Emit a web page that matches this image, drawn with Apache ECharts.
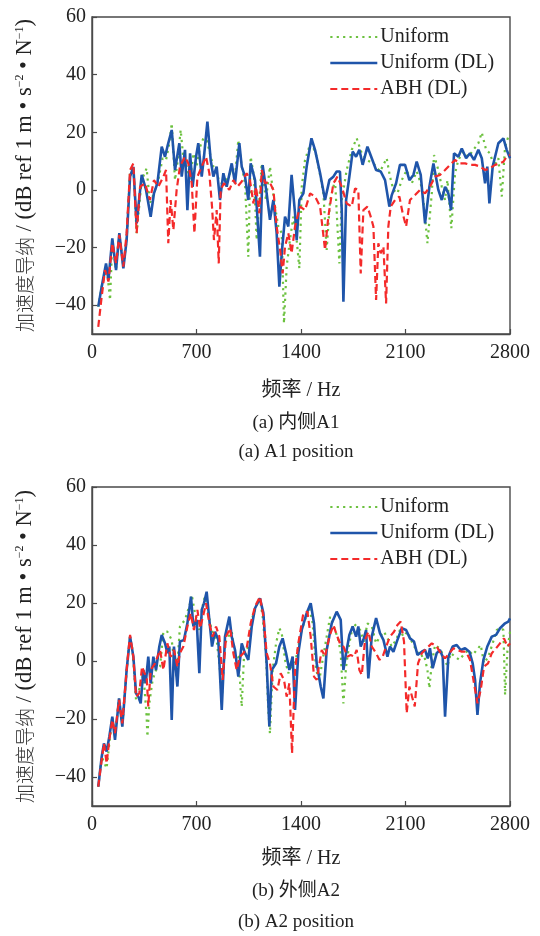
<!DOCTYPE html>
<html>
<head>
<meta charset="utf-8">
<script src="https://cdn.jsdelivr.net/npm/echarts@6/dist/echarts.min.js"></script>
<style>html,body{margin:0;padding:0;background:#fff}#c{width:540px;height:936px}</style>
</head>
<body>
<div id="c"></div>
<script>
// ---- axis ticks ----
const xTicks = [0, 700, 1400, 2100, 2800];
const yTicks = [-40, -20, 0, 20, 40, 60];
const seriesNames = ['Uniform', 'Uniform (DL)', 'ABH (DL)'];

// ---- (a) A1 position ----
const a1UniformHz = [42,65,98,121,136,161,183,210,232,255,277,299,333,366,388,415,444,473,496,518,534,556,572,594,612,634,657,679,701,724,746,768,790,813,840,869,902,936,958,980,1003,1025,1047,1063,1085,1103,1137,1165,1192,1219,1248,1271,1286,1304,1326,1349,1371,1389,1405,1427,1456,1472,1505,1550,1572,1595,1628,1657,1673,1706,1740,1773,1807,1840,1885,1930,1974,1996,2019,2046,2075,2108,2142,2175,2202,2220,2247,2276,2291,2320,2343,2365,2381,2407,2432,2454,2488,2521,2555,2588,2611,2640,2666,2693,2722,2745,2767,2789,2800];
const a1UniformDb = [-40.5,-33.6,-26.6,-38.2,-17.4,-27.8,-15,-26.6,-17.4,6.9,8.1,-15,3.4,7.5,-4.7,-1.2,3.4,11,10.4,16.2,23.1,3.4,9.2,20.8,11,8.1,3.4,12.7,8.1,15,17.9,17.3,12.7,8.1,4.6,2.3,3.4,6.9,4.6,17.3,8.1,2.3,-23.2,11.5,4.6,-17.4,9.2,-3.5,8.1,-3.5,-12.7,-15,-46.3,-26.6,-17.4,-9.3,-17.4,-27.2,1.1,10.4,15,16.2,11.5,-1.2,-20.8,-3.5,3.4,-25.5,-3.5,6.9,13.9,17.9,12.7,10.4,9.2,6.4,11,4.6,0,-1.2,3.4,6.9,2.3,6.4,2.3,-3.5,-18.5,-1.2,12.1,6.9,1.1,-3.5,3.4,-13.3,5.8,10.4,13.3,11.5,13.9,16.2,19.9,13.9,12.7,8.1,11,-2.3,15,18.5,18.5];

const a1UniformDLHz = [42,65,94,110,136,161,183,210,232,255,277,299,333,362,393,415,438,467,489,505,534,556,585,601,623,639,657,674,697,712,735,750,773,795,813,835,857,880,902,936,958,987,1003,1025,1047,1063,1092,1125,1143,1170,1192,1215,1237,1255,1271,1293,1315,1337,1360,1371,1389,1416,1438,1470,1494,1528,1561,1590,1617,1639,1661,1673,1684,1702,1724,1746,1769,1791,1813,1845,1874,1903,1934,1963,1992,2008,2037,2063,2097,2126,2153,2175,2202,2231,2260,2287,2320,2343,2365,2387,2405,2425,2454,2477,2506,2532,2559,2588,2611,2633,2648,2662,2684,2722,2756,2778,2800];
const a1UniformDLDb = [-40.5,-33.6,-25.5,-31.3,-16.8,-27.8,-15,-27.2,-17.4,4.6,8,-11.6,5.2,0,-9.3,-1.2,2.3,15,11.5,15,20.8,6.9,16.2,4.6,13.9,-7,12.7,1.1,11.5,16.2,4.6,11.5,23.7,10.4,4.6,8.1,-3.5,5.8,1.1,9.2,2.3,16.2,8.1,4.6,-3.5,9.2,3.4,-23.2,8.6,-1.2,-10.4,-3.5,-15,-33.6,-22,-9.3,-12.7,5.2,-8.1,-17.4,-3.5,-1.2,8.1,17.9,13.9,5.8,-3.5,3.4,4.6,6.4,6.4,-7,-38.8,-3.5,4.6,13.3,11.5,13.9,8.7,15,11,6.9,6.4,3.4,-5.8,-1.8,2.3,8.7,8.7,3.4,5.2,9.8,5.2,-11.6,1.1,9.2,0,-3.5,1.1,-1.2,-7,12.7,11.5,14.4,11,12.7,10.4,13.9,11,2.3,8.1,-4.7,8.1,16.2,17.9,13.9,11];

const a1AbhDLHz = [42,65,87,110,136,161,183,210,232,255,277,299,322,355,388,415,444,478,496,511,527,545,567,589,623,645,668,686,706,735,764,786,804,817,835,849,862,884,920,947,974,1003,1036,1058,1081,1099,1121,1137,1159,1188,1215,1237,1260,1277,1293,1315,1337,1360,1382,1394,1427,1461,1494,1528,1561,1583,1617,1644,1673,1706,1740,1762,1784,1800,1818,1845,1867,1885,1903,1918,1934,1952,1970,1985,2001,2030,2059,2081,2104,2130,2164,2197,2231,2264,2298,2331,2365,2398,2432,2465,2499,2532,2566,2599,2633,2666,2700,2733,2756,2778,2800];
const a1AbhDLDb = [-47.5,-37,-27.8,-31.8,-18.5,-25.5,-15.6,-26.6,-15,6.9,9.2,-15,1.1,2.3,-3.5,3.4,1.1,4.6,6.9,-18.5,-3.5,-13.9,0,8.1,11.5,9.2,2.3,-15,4.6,8.1,11.5,5.8,-5.8,-17.4,-7,-25.5,0,2.3,0,3.4,1.1,2.9,5.8,3.4,-4.7,1.1,-8.1,6.9,2.3,2.9,0,-12.7,-20.8,-29,-19.7,-15,-22,-12.7,-8.1,-5.8,-7,-1.2,-2.3,-5.8,-20.8,-9.3,2.3,4.6,1.1,-4.7,-5.8,0.5,0,-29,-7,-5.8,-9.3,-12.7,-38.2,-18.5,-22,-19.7,-39.4,-12.7,-5.8,-3.5,-2.3,-8.1,-12.7,-3.5,-1.8,0,-1.2,1.1,4.6,5.2,6.9,8.7,10.4,9.2,9.2,8.7,8.7,8.1,6.9,7.5,8.7,9.2,9.8,11.5,12.1];

// ---- (b) A2 position ----
const a2UniformHz = [42,65,98,121,136,154,181,203,232,255,272,295,322,344,366,371,384,406,429,456,478,505,534,556,567,589,623,657,668,690,719,746,757,779,801,835,857,869,891,913,936,958,980,1003,1018,1047,1076,1103,1125,1143,1165,1181,1192,1210,1233,1255,1271,1293,1315,1337,1360,1382,1405,1434,1456,1478,1501,1523,1545,1572,1595,1617,1650,1666,1684,1702,1724,1751,1773,1796,1822,1845,1874,1903,1929,1956,1985,2008,2037,2063,2086,2113,2142,2171,2198,2224,2247,2260,2276,2298,2327,2354,2381,2403,2432,2461,2488,2521,2550,2577,2604,2626,2655,2684,2711,2738,2756,2767,2783,2800];
const a2UniformDb = [-43.3,-33,-37,-26.1,-19.2,-26.1,-12.9,-22.6,-3.1,8.4,3.8,-13.4,-8.8,-4.2,-19.2,-26.1,-14.6,-6.5,-3.1,-1.9,10.1,10.1,7.3,-3.1,-5.4,11.9,14.2,19.9,22.8,16.5,10.7,20.5,22.2,16.5,10.7,7.3,-3.1,-13.4,6.1,8.4,10.1,2.7,1.5,-15.7,1.5,5,15.3,19.3,21.6,15.3,2.7,-16.9,-25,-3.1,6.1,11.3,9.6,0.4,-4.2,-1.9,-0.8,5,10.7,15.3,18.2,13,-3.1,-6.5,0.4,8.4,15.3,12.4,7.3,2.7,-14.6,-1.9,6.1,13,11.9,10.7,6.7,13,11.9,6.1,8.4,10.1,7.3,5,7.3,10.7,8.4,10.1,6.7,3.8,1.5,2.1,-3.1,-9.4,-0.8,5.5,4.4,2.1,-1.9,2.7,1.5,0.4,2.1,3.8,2.1,3.8,5.5,-0.8,1.5,6.1,10.7,11.3,10.7,-11.7,3.8,10.1];

const a2UniformDLHz = [42,65,80,98,116,136,154,181,203,232,255,277,295,310,326,344,360,377,393,411,429,451,467,489,505,518,534,549,572,589,616,639,663,679,701,719,735,750,768,786,804,824,846,869,891,920,936,958,980,1003,1025,1047,1070,1092,1125,1148,1170,1188,1204,1233,1255,1277,1300,1322,1344,1360,1382,1405,1438,1465,1487,1505,1532,1550,1572,1606,1639,1666,1684,1702,1724,1746,1769,1784,1800,1818,1836,1851,1874,1903,1929,1952,1979,1996,2019,2046,2075,2104,2130,2157,2180,2209,2231,2249,2264,2282,2309,2331,2349,2365,2387,2416,2443,2470,2499,2528,2550,2566,2582,2599,2622,2648,2678,2707,2733,2767,2789,2800];
const a2UniformDLDb = [-43.3,-33,-28.4,-31.2,-26.1,-19.2,-27.2,-12.9,-22.6,-3.1,8.4,1.5,-11.1,-12.3,-14.6,-3.1,-7.7,1.5,-7.7,1.5,-3.1,5,9,6.1,2.7,5,-20.3,5,-8.8,6.7,7.3,13,22.2,11.9,14.2,-4.2,17.6,19.9,23.9,14.2,5,10.1,7.3,-16.9,8.4,15.3,8.4,3.8,-5.4,6.1,2.7,0.4,11.9,18.2,21.6,16.5,-0.8,-22.6,-3.1,-0.8,5,7.8,2.7,-3.1,1.5,-16.9,2.7,10.7,16.5,19.9,13,-0.8,-8.8,-12.9,3.8,13,17,14.2,-3.1,2.7,9,11.9,8.4,11.9,5,7.3,10.7,-6,8.4,14.8,9.6,7.3,1.5,5,3.2,7.3,11.3,10.7,7.8,6.7,2.1,3.2,3.8,0.9,4.4,-2.5,2.7,3.8,1.5,-19.2,1.5,5,5.5,3.8,4.4,3.2,-0.8,-6.5,-18.6,-7.7,0.4,5,8.4,9,11.3,13,13.6,14.7];

const a2AbhDLHz = [42,65,80,98,116,136,154,181,203,232,255,277,295,317,335,351,366,377,393,422,456,478,505,527,549,572,589,612,639,661,683,706,724,746,764,786,808,831,853,875,898,925,947,969,991,1014,1036,1063,1092,1125,1148,1170,1192,1215,1242,1264,1286,1304,1322,1340,1360,1382,1416,1443,1465,1487,1505,1539,1561,1590,1617,1639,1661,1684,1711,1733,1755,1773,1791,1807,1829,1851,1874,1903,1925,1947,1974,1996,2023,2046,2068,2090,2108,2126,2144,2162,2184,2209,2242,2276,2309,2336,2365,2394,2421,2448,2477,2506,2532,2559,2582,2604,2626,2653,2678,2707,2733,2760,2783,2800];
const a2AbhDLDb = [-43.3,-34.1,-28.4,-35.3,-27.2,-20.3,-24.9,-13.4,-21.5,-3.1,9,1.5,-12.3,-11.1,-1.9,-4.2,-5.4,-15.7,-3.1,-0.8,3.8,-3.1,6.1,1.5,3.8,-1.9,2.7,5,11.9,16.5,10.7,17.6,11.3,15.9,19.9,13,8.4,11.9,8.4,-6.5,8.4,11.3,2.7,-3.1,1.5,2.7,4.4,13,18.8,22.2,15.3,2.7,-0.8,-8.8,-10,-4.2,-6.5,-12.3,-7.7,-31.8,-3.1,6.1,16.5,17,8.4,-5.4,-6.5,3.8,1.5,8.4,12.4,9,6.1,5,1.5,2.1,1.5,3.8,-3.1,-4.8,7.3,10.1,5,2.7,0.4,1.5,5.5,8.4,10.1,12.4,13.6,6.7,-18,-8.8,-12.3,-15.7,-0.8,2.7,4.4,6.1,5,2.7,0.9,2.7,4.4,3.8,3.2,3.2,0.4,-7.7,-14.6,-10,-1.9,-0.8,2.7,4.4,6.1,7.8,5,6.1];

const zip = (xs, ys) => xs.map((x, i) => [x, ys[i]]);

const SERIF = "'Liberation Serif','Times New Roman','Noto Sans CJK SC',serif";
const INK = '#222';
const AXIS = '#4a4a4a';
const colors = ['#6cc13f', '#1f55aa', '#f42a2a'];
const styles = [
  { width: 2.2, type: [2.2, 4.2], color: colors[0] },
  { width: 2.6, type: 'solid', color: colors[1] },
  { width: 2.2, type: [7, 4], color: colors[2] }
];

const grids = [
  { left: 92, top: 17, width: 418, height: 317 },
  { left: 92, top: 487, width: 418, height: 319 }
];

function xAxisFor(i, gap) {
  return {
    type: 'value', gridIndex: i, min: 0, max: 2800, interval: 700,
    axisLine: { show: true, onZero: false, lineStyle: { color: AXIS, width: 1.4 } },
    axisTick: { show: true, inside: true, length: 5, lineStyle: { color: AXIS, width: 1.2 }, customValues: xTicks },
    axisLabel: { fontFamily: SERIF, fontSize: 20, color: INK, margin: 9, customValues: xTicks, formatter: v => String(v) },
    splitLine: { show: false },
    name: '频率 / Hz', nameLocation: 'middle', nameGap: gap,
    nameTextStyle: { fontFamily: SERIF, fontSize: 20, color: INK }
  };
}
function yAxisFor(i) {
  return {
    type: 'value', gridIndex: i, min: -50, max: 60,
    axisLine: { show: true, onZero: false, lineStyle: { color: AXIS, width: 1.4 } },
    axisTick: { show: true, inside: true, length: 5, lineStyle: { color: AXIS, width: 1.2 }, customValues: yTicks },
    axisLabel: {
      fontFamily: SERIF, fontSize: 20, color: INK, margin: 6, customValues: yTicks,
      formatter: v => (v < 0 ? '\u2212' + Math.abs(v) : String(v))
    },
    splitLine: { show: false },
    name: '{cn|加速度导纳}{en| / (dB ref 1 m • s}{sup|−2}{en| • N}{sup|−1}{en|)}',
    nameLocation: 'middle', nameGap: 56,
    nameTextStyle: {
      rich: {
        cn: { fontFamily: "'Noto Sans CJK SC',sans-serif", fontSize: 19, color: '#333', fontWeight: 300 },
        en: { fontFamily: SERIF, fontSize: 22.5, color: INK },
        sup: { fontFamily: SERIF, fontSize: 12, color: INK, verticalAlign: 'top', padding: [0, 0, 8, 0] }
      }
    }
  };
}
function legendFor(top) {
  return {
    orient: 'vertical', left: 324, top: top, itemWidth: 47, itemHeight: 14, itemGap: 6,
    data: seriesNames.map((n, k) => ({ name: n, lineStyle: { width: styles[k].width, type: styles[k].type, color: colors[k] } })),
    selectedMode: false,
    itemStyle: { opacity: 0 },
    textStyle: { fontFamily: SERIF, fontSize: 20, color: INK, padding: [0, 0, 0, -2] }
  };
}

const sets = [
  [a1UniformHz, a1UniformDb, a1UniformDLHz, a1UniformDLDb, a1AbhDLHz, a1AbhDLDb],
  [a2UniformHz, a2UniformDb, a2UniformDLHz, a2UniformDLDb, a2AbhDLHz, a2AbhDLDb]
];
const series = [];
sets.forEach((s, g) => {
  for (let k = 0; k < 3; k++) {
    series.push({
      type: 'line', name: seriesNames[k], xAxisIndex: g, yAxisIndex: g,
      data: zip(s[2 * k], s[2 * k + 1]), showSymbol: false, symbol: 'none',
      lineStyle: styles[k], itemStyle: { color: colors[k] }, z: 2 + k, silent: true
    });
  }
});

const chart = echarts.init(document.getElementById('c'), null, { renderer: 'canvas' });
chart.setOption({
  animation: false,
  backgroundColor: '#fff',
  grid: grids.map(g => Object.assign({ show: true, borderColor: AXIS, borderWidth: 1.4, backgroundColor: 'transparent' }, g)),
  xAxis: [xAxisFor(0, 47), xAxisFor(1, 43)],
  yAxis: [yAxisFor(0), yAxisFor(1)],
  legend: [legendFor(22), legendFor(492)],
  series: series,
  graphic: [
    { type: 'text', x: 296, y: 423, style: { text: '(a) 内侧A1', font: "19px 'Liberation Serif','Noto Sans CJK SC',serif", fill: INK, align: 'center', verticalAlign: 'middle' } },
    { type: 'text', x: 296, y: 452, style: { text: '(a) A1 position', font: "19px 'Liberation Serif',serif", fill: INK, align: 'center', verticalAlign: 'middle' } },
    { type: 'text', x: 296, y: 891, style: { text: '(b) 外侧A2', font: "19px 'Liberation Serif','Noto Sans CJK SC',serif", fill: INK, align: 'center', verticalAlign: 'middle' } },
    { type: 'text', x: 296, y: 922, style: { text: '(b) A2 position', font: "19px 'Liberation Serif',serif", fill: INK, align: 'center', verticalAlign: 'middle' } }
  ]
});
</script>
</body>
</html>
